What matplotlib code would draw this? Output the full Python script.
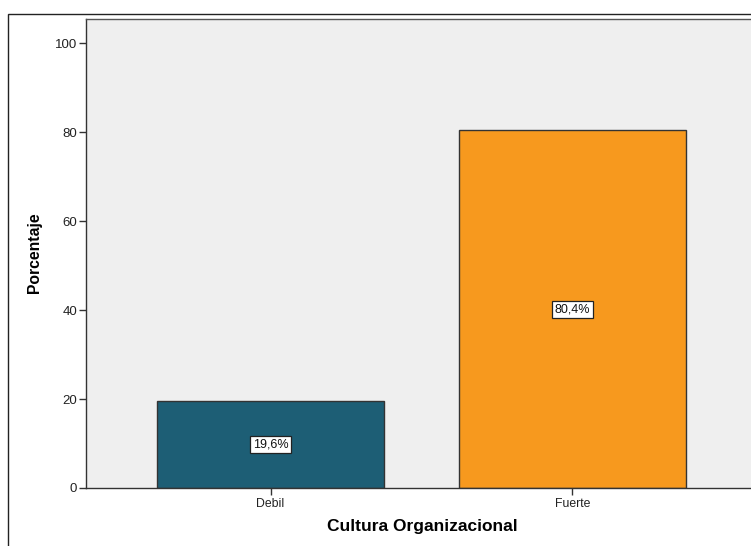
import matplotlib
matplotlib.use("Agg")
import matplotlib.pyplot as plt
from matplotlib.patches import Rectangle

categories = ["Debil", "Fuerte"]
values = [19.6, 80.4]
labels = ["19,6%", "80,4%"]
colors = ["#1d5e75", "#f7991e"]
yticks = [0, 20, 40, 60, 80, 100]

plt.rcParams['font.family'] = ['Liberation Sans', 'DejaVu Sans']

fig = plt.figure(figsize=(7.51, 5.46), dpi=100)
# outer frame
fig.patches.append(Rectangle((8/751, -0.1), 1.2, 1 - 14/546 + 0.1, transform=fig.transFigure,
                             fill=False, edgecolor="#222222", linewidth=1.0))

ax = fig.add_axes([86/751, 1 - 488/546, (757 - 86)/751, (488 - 19)/546])
ax.set_facecolor("#efefef")
x = list(range(len(categories)))
ax.bar(x, values, width=0.75, color=colors, edgecolor="#333333", linewidth=1.0, zorder=2)
for xi, v, lab in zip(x, values, labels):
    ax.text(xi, v / 2, lab, ha="center", va="center", fontsize=9, color="#111111", zorder=3,
            bbox=dict(boxstyle="square,pad=0.2", facecolor="white", edgecolor="#222222", linewidth=0.9))

ax.set_xlim(-0.611, 1.611)
ax.set_ylim(0, 105.4)
ax.set_yticks(yticks)
ax.set_yticklabels([str(t) for t in yticks], fontsize=9.5, color="#222222")
ax.set_xticks(x)
ax.set_xticklabels(categories, fontsize=8.8, color="#222222")
ax.tick_params(axis="both", direction="out", length=5, width=1, color="#333333")
ax.tick_params(axis="y", pad=1.5)
ax.tick_params(axis="x", pad=2)
for s in ax.spines.values():
    s.set_color("#555555")
    s.set_linewidth(1.0)
ax.spines["left"].set_color("#333333")
ax.spines["bottom"].set_color("#333333")

ax.set_ylabel("Porcentaje", fontsize=11.3, fontweight="bold")
ax.yaxis.set_label_coords((34 - 86) / (757 - 86), (488 - 253) / (488 - 19))
ax.yaxis.label.set_va("center")
ax.set_xlabel("Cultura Organizacional", fontsize=12.5, fontweight="bold")
ax.xaxis.set_label_coords((422 - 86) / (757 - 86), -(527 - 488) / (488 - 19))
ax.xaxis.label.set_va("center")

fig.savefig("out.png", dpi=100)
